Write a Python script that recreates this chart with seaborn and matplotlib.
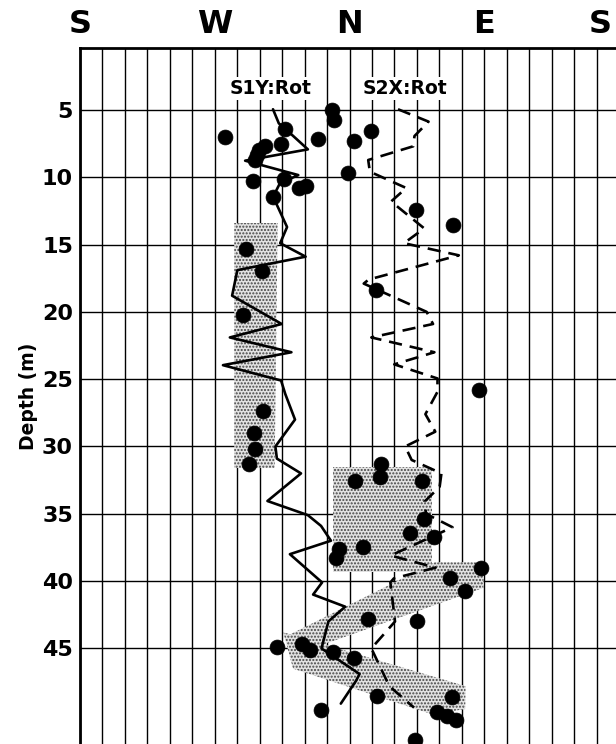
import numpy as np
import pandas as pd
import matplotlib
matplotlib.use("Agg")
import matplotlib.pyplot as plt
import matplotlib.transforms as mtransforms
import seaborn as sns

# ---------------- data (true azimuth in degrees, depth in m) ----------------
s1y_depth = [4.95, 6.0, 6.37, 7.93, 8.77, 9.84, 10.45, 11.45, 13.7, 14.9, 15.9, 16.9,
             18.8, 20.9, 21.9, 23.0, 23.96, 25.1, 26.1, 28.0, 30.0, 30.9, 32.0, 34.05,
             35.1, 35.9, 37.0, 38.0, 40.1, 41.0, 41.9, 43.0, 45.0, 46.9, 47.4, 49.1]
s1y_azim = [308.9, 312.8, 316.8, 332.2, 290.3, 325.8, 313.5, 309.0, 318.3, 313.7, 330.7, 285.1,
            281.6, 314.7, 280.1, 321.2, 275.5, 314.3, 317.1, 323.6, 310.5, 311.5, 327.6, 305.2,
            332.2, 341.0, 347.6, 320.2, 341.7, 335.7, 357.1, 345.9, 341.3, 6.7, 4.4, 354.2]

s2x_depth = [4.95, 5.87, 6.94, 7.7, 8.72, 9.59, 10.8, 11.8, 13.8, 14.9, 15.8, 17.6, 17.9,
             20.0, 20.9, 21.9, 23.0, 23.9, 24.95, 25.95, 27.6, 28.9, 30.0, 31.0, 32.0, 33.0,
             34.1, 35.0, 36.0, 38.1, 39.0, 39.8, 40.1, 43.0, 45.0, 47.8, 49.4]
s2x_azim = [32.4, 52.8, 43.4, 42.6, 12.5, 13.6, 37.9, 27.8, 49.9, 36.4, 73.0, 12.8, 9.5,
            51.5, 55.8, 14.6, 56.7, 29.9, 58.8, 58.7, 50.7, 57.3, 37.2, 41.5, 61.4, 60.2,
            50.1, 51.1, 68.8, 27.5, 57.5, 29.6, 27.3, 30.4, 14.6, 26.6, 43.1]

dot_azim = [276.7, 316.8, 314.4, 303.8, 299.3, 298.1, 297.0, 348.4, 349.5, 338.9, 2.7, 14.5,
            359.1, 295.7, 316.4, 326.1, 331.2, 309.0, 44.4, 68.8, 290.8, 301.7, 288.8, 17.8,
            86.5, 301.9, 296.1, 296.7, 292.6, 20.8, 20.7, 3.6, 48.5, 50.0, 40.6, 56.5,
            8.7, 352.7, 350.8, 87.9, 67.3, 77.3, 12.6, 45.2, 311.9, 328.4, 333.9, 349.0,
            2.8, 18.7, 68.7, 58.6, 65.3, 70.8, 340.9, 43.5]
dot_depth = [7.03, 6.42, 7.53, 7.7, 7.98, 8.35, 8.7, 5.0, 5.75, 7.18, 7.29, 6.54,
             9.67, 10.3, 10.16, 10.8, 10.65, 11.45, 12.4, 13.55, 15.3, 16.95, 20.2, 18.4,
             25.8, 27.4, 29.0, 30.2, 31.3, 31.3, 32.3, 32.6, 32.6, 35.4, 36.4, 36.7,
             37.5, 37.6, 38.3, 39.0, 39.8, 40.7, 42.85, 43.0, 44.9, 44.7, 45.1, 45.3,
             45.7, 48.5, 48.6, 49.7, 50.0, 50.3, 49.6, 51.8]

# stippled zones (polygons: azimuth, depth)
zone1_azim = [283, 312, 310, 283]
zone1_depth = [13.4, 13.4, 31.6, 31.6]
zone2_azim = [349, 55, 55, 349]
zone2_depth = [31.5, 31.5, 39.3, 39.3]
zone3_azim = [317.8, 57.0, 89.7, 89.5, 322.3]
zone3_depth = [44.1, 38.6, 38.6, 40.5, 45.5]
zone4_azim = [315.8, 77.5, 77.3, 55.3, 322.3]
zone4_depth = [43.8, 47.8, 49.5, 49.9, 46.5]

dir_ticks = [180, 270, 360, 450, 540]
dir_labels = ["S", "W", "N", "E", "S"]
depth_ticks = [5, 10, 15, 20, 25, 30, 35, 40, 45]
series_labels = ["S1Y:Rot", "S2X:Rot"]


def unwrap(a):
    a = np.asarray(a, dtype=float)
    return np.where(a < 180, a + 360, a)


sns.set_theme(style="white")
plt.rcParams["font.family"] = ["DejaVu Sans"]
plt.rcParams["text.color"] = "black"
plt.rcParams["axes.labelcolor"] = "black"
plt.rcParams["xtick.color"] = "black"
plt.rcParams["ytick.color"] = "black"

fig = plt.figure(figsize=(6.16, 7.44), dpi=100)
ax = fig.add_axes([80 / 616, 0.0, (619 - 80) / 616, (744 - 48) / 744])

# stippled zones
for za, zd in [(zone1_azim, zone1_depth), (zone2_azim, zone2_depth),
               (zone3_azim, zone3_depth), (zone4_azim, zone4_depth)]:
    ax.fill(unwrap(za), zd, facecolor="#e2e2e2", edgecolor="#444444",
            hatch=".....", linewidth=0, zorder=1)

df1 = pd.DataFrame({"azim": unwrap(s1y_azim), "depth": s1y_depth})
df2 = pd.DataFrame({"azim": unwrap(s2x_azim), "depth": s2x_depth})
dfd = pd.DataFrame({"azim": unwrap(dot_azim), "depth": dot_depth})

sns.lineplot(data=df1, x="azim", y="depth", sort=False, estimator=None,
             color="black", linewidth=1.9, ax=ax, zorder=3)
sns.lineplot(data=df2, x="azim", y="depth", sort=False, estimator=None,
             color="black", linewidth=1.9, linestyle=(0, (5, 3)), ax=ax, zorder=3)
sns.scatterplot(data=dfd, x="azim", y="depth", color="black", edgecolor="black",
                s=115, linewidth=0.5, ax=ax, zorder=4)

ax.set_xlim(180, 540)
ax.set_ylim(52.1, 0.4)

ax.set_xticks(np.arange(180, 541, 15))
ax.set_xticklabels([])
ax.xaxis.tick_top()
ax.set_yticks(depth_ticks)
ax.set_yticklabels([str(d) for d in depth_ticks])

ax.tick_params(axis="x", length=0)
ax.tick_params(axis="y", length=0, pad=5, labelsize=16)
for lab in ax.get_yticklabels():
    lab.set_fontweight("bold")

# compass labels above the frame
trans = mtransforms.blended_transform_factory(ax.transData, ax.transAxes)
for t, l in zip(dir_ticks, dir_labels):
    x = t if t < 540 else 527.5
    ax.text(x, 1.012, l, transform=trans, ha="center", va="bottom",
            fontsize=23, fontweight="bold", clip_on=False)

ax.grid(True, color="black", linewidth=1.0, zorder=0)
ax.set_axisbelow(True)
for side in ["top", "left", "right"]:
    ax.spines[side].set_color("black")
    ax.spines[side].set_linewidth(2)
ax.spines["bottom"].set_visible(False)

ax.set_xlabel("")
ax.set_ylabel("Depth (m)", fontsize=13.5, fontweight="bold", labelpad=3)

ax.text(307, 3.4, series_labels[0], ha="center", va="center", fontsize=13.5,
        fontweight="bold", zorder=5,
        bbox=dict(facecolor="white", edgecolor="none", pad=1.5))
ax.text(397.3, 3.4, series_labels[1], ha="center", va="center", fontsize=13.5,
        fontweight="bold", zorder=5,
        bbox=dict(facecolor="white", edgecolor="none", pad=1.5))

fig.savefig("out.png", dpi=100)
